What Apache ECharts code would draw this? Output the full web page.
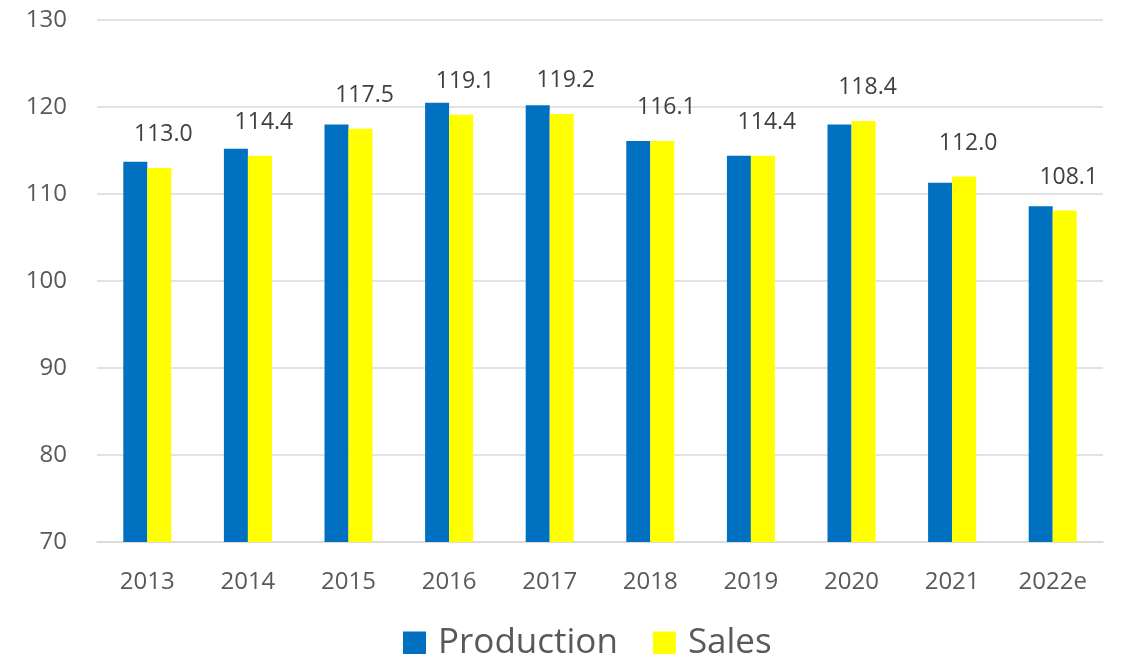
<!DOCTYPE html>
<html>
<head>
<meta charset="utf-8">
<script src="https://cdn.jsdelivr.net/npm/echarts@6/dist/echarts.min.js"></script>
<style>
  html, body { margin: 0; padding: 0; background: #fff; }
  #main { width: 1135px; height: 654px; }
</style>
</head>
<body>
<div id="main"></div>
<script>
// categories and values
const years = ['2013', '2014', '2015', '2016', '2017', '2018', '2019', '2020', '2021', '2022e'];
const production = [113.7, 115.2, 118.0, 120.5, 120.2, 116.1, 114.4, 118.0, 111.3, 108.6];
const sales = [113.0, 114.4, 117.5, 119.1, 119.2, 116.1, 114.4, 118.4, 112.0, 108.1];

const chart = echarts.init(document.getElementById('main'));
const font = '"Open Sans", "Noto Sans", sans-serif';

chart.setOption({
  backgroundColor: '#ffffff',
  animation: false,
  textStyle: { fontFamily: font },
  grid: { left: 97, right: 32, top: 20, bottom: 112 },
  legend: {
    top: 620,
    left: 398,
    itemWidth: 23,
    itemHeight: 23,
    itemGap: 35,
    icon: 'rect',
    textStyle: {
      fontSize: 35,
      lineHeight: 36,
      color: '#595959',
      fontFamily: font,
      padding: [0, 0, 0, 7]
    },
    data: ['Production', 'Sales']
  },
  xAxis: {
    type: 'category',
    data: years,
    axisTick: { show: false },
    axisLine: { lineStyle: { color: '#d9d9d9', width: 1.5 } },
    axisLabel: { fontSize: 24, color: '#595959', margin: 28 }
  },
  yAxis: {
    type: 'value',
    min: 70,
    max: 130,
    interval: 10,
    axisLine: { show: false },
    axisTick: { show: false },
    axisLabel: { fontSize: 24, color: '#595959', margin: 30 },
    splitLine: { lineStyle: { color: '#d9d9d9', width: 1.5 } }
  },
  series: [
    {
      name: 'Production',
      type: 'bar',
      data: production,
      barWidth: 24,
      barGap: '0%',
      itemStyle: { color: '#0070c0' }
    },
    {
      name: 'Sales',
      type: 'bar',
      data: sales,
      barWidth: 24,
      itemStyle: { color: '#ffff00' },
      label: {
        show: true,
        position: 'top',
        distance: 22,
        offset: [4, 0],
        fontSize: 23,
        color: '#404040',
        formatter: p => p.value.toFixed(1)
      }
    }
  ]
});
</script>
</body>
</html>
